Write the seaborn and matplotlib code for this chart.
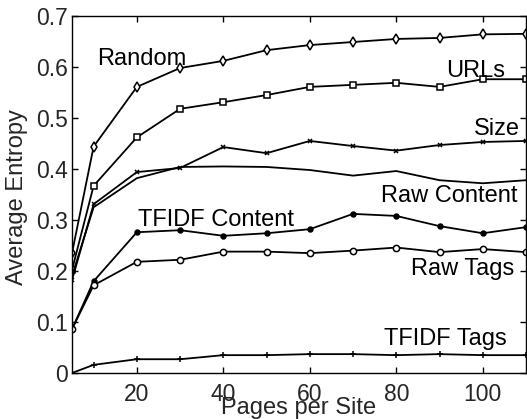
import matplotlib
matplotlib.use("Agg")
import matplotlib.pyplot as plt
import seaborn as sns
import pandas as pd

pages = [5, 10, 20, 30, 40, 50, 60, 70, 80, 90, 100, 110]
random_vals = [0.235, 0.444, 0.561, 0.598, 0.612, 0.633, 0.643, 0.649, 0.655, 0.657, 0.664, 0.665]
urls_vals = [0.202, 0.367, 0.462, 0.518, 0.531, 0.545, 0.561, 0.565, 0.569, 0.561, 0.576, 0.576]
size_vals = [0.182, 0.331, 0.394, 0.402, 0.443, 0.431, 0.455, 0.445, 0.436, 0.447, 0.453, 0.455]
raw_content_vals = [0.19, 0.325, 0.382, 0.404, 0.405, 0.404, 0.398, 0.387, 0.396, 0.378, 0.372, 0.378]
tfidf_content_vals = [0.086, 0.180, 0.276, 0.280, 0.269, 0.274, 0.282, 0.312, 0.308, 0.288, 0.274, 0.286]
raw_tags_vals = [0.086, 0.172, 0.218, 0.222, 0.238, 0.238, 0.235, 0.240, 0.246, 0.237, 0.243, 0.237]
tfidf_tags_vals = [0.0, 0.016, 0.027, 0.027, 0.035, 0.035, 0.037, 0.037, 0.035, 0.037, 0.035, 0.035]

series_names = ["Random", "URLs", "Size", "Raw Content", "TFIDF Content", "Raw Tags", "TFIDF Tags"]
series_vals = [random_vals, urls_vals, size_vals, raw_content_vals,
               tfidf_content_vals, raw_tags_vals, tfidf_tags_vals]

sns.set_style("ticks")
plt.rcParams["font.family"] = ["Liberation Sans", "DejaVu Sans"]
plt.rcParams["xtick.direction"] = "in"
plt.rcParams["ytick.direction"] = "in"

fig = plt.figure(figsize=(5.27, 4.19), dpi=100)
ax = fig.add_axes([72 / 527, 1 - 373 / 419, 454 / 527, 357 / 419])

styles = {
    "Random": dict(marker="d", mfc="white", ms=5),
    "URLs": dict(marker="s", mfc="white", ms=4),
    "Size": dict(marker="x", ms=3.5),
    "Raw Content": dict(marker=None),
    "TFIDF Content": dict(marker="o", mfc="black", ms=3.5),
    "Raw Tags": dict(marker="o", mfc="white", ms=4.5),
    "TFIDF Tags": dict(marker="+", ms=4.5),
}

for name, vals in zip(series_names, series_vals):
    df = pd.DataFrame({"pages": pages, "entropy": vals})
    st = styles[name]
    kw = dict(color="black", linewidth=1.3)
    if st.get("marker"):
        kw.update(marker=st["marker"], markersize=st["ms"], markeredgecolor="black",
                  markeredgewidth=1.1)
        if "mfc" in st:
            kw["markerfacecolor"] = st["mfc"]
    sns.lineplot(data=df, x="pages", y="entropy", ax=ax, **kw)

labels_pos = {
    "Random": (10.8, 0.604),
    "URLs": (91.5, 0.580),
    "Size": (98.0, 0.467),
    "Raw Content": (76.5, 0.335),
    "TFIDF Content": (20.2, 0.288),
    "Raw Tags": (83.5, 0.192),
    "TFIDF Tags": (77.2, 0.055),
}
for name, (lx, ly) in labels_pos.items():
    ax.text(lx, ly, name, fontsize=17, ha="left", va="baseline", color="black")

ax.set_xlim(5, 110)
ax.set_ylim(0, 0.7)
ax.set_xticks([20, 40, 60, 80, 100])
ax.set_yticks([0, 0.1, 0.2, 0.3, 0.4, 0.5, 0.6, 0.7])
ax.set_yticklabels(["0", "0.1", "0.2", "0.3", "0.4", "0.5", "0.6", "0.7"])
ax.tick_params(axis="both", labelsize=16.5, length=4, width=1, top=True, right=True, color="black")
ax.tick_params(axis="y", pad=3)
ax.tick_params(axis="x", pad=7)
for s in ax.spines.values():
    s.set_color("black")
    s.set_linewidth(1.0)
    s.set_visible(True)

ax.set_xlabel("Pages per Site", fontsize=17)
ax.set_ylabel("Average Entropy", fontsize=17)
ax.xaxis.set_label_coords(0.5, -0.097)
ax.xaxis.label.set_va("center")
ax.yaxis.set_label_coords(-0.121, 0.493)
ax.yaxis.label.set_va("center")

fig.savefig("out.png", dpi=100)
